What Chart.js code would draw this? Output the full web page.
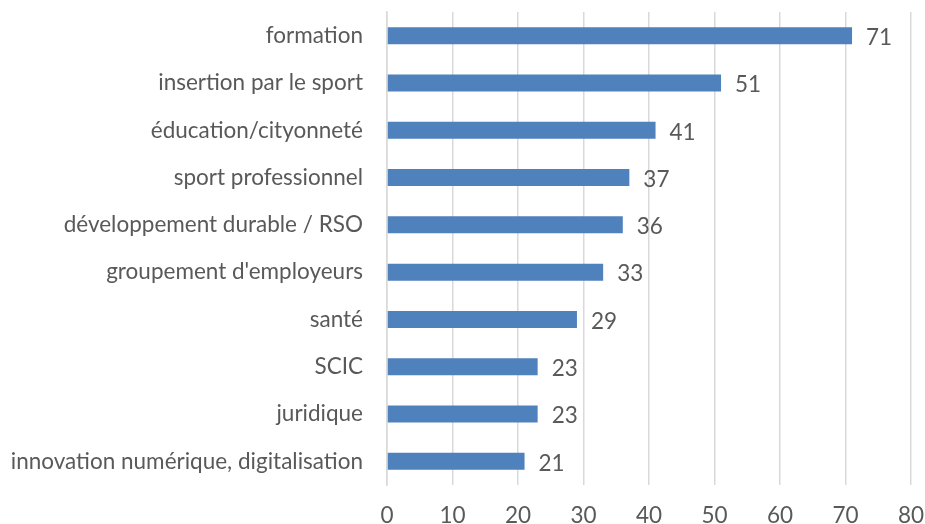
<!DOCTYPE html>
<html>
<head>
  <meta charset="utf-8">
  <title>Thèmes</title>
  <script src="https://cdn.jsdelivr.net/npm/chart.js@4.4.0/dist/chart.umd.min.js"></script>
  <style>
    html, body { margin: 0; padding: 0; background: #fff; }
    #wrap { width: 925px; height: 524px; }
  </style>
</head>
<body>
  <div id="wrap"><canvas id="bar-chart"></canvas></div>
<script>
  var categories = ["formation", "insertion par le sport", "éducation/cityonneté", "sport professionnel",
    "développement durable / RSO", "groupement d'employeurs", "santé", "SCIC", "juridique",
    "innovation numérique, digitalisation"]
  var values = [71, 51, 41, 37, 36, 33, 29, 23, 23, 21]
  var xTicks = [0, 10, 20, 30, 40, 50, 60, 70, 80]

  var font = "Lato"
  var fontSize = 22.5
  var textColor = "#595959"

  // value labels at the end of each bar
  var barLabels = {
    id: 'barLabels',
    afterDatasetsDraw: function (chart) {
      var ctx = chart.ctx
      var meta = chart.getDatasetMeta(0)
      ctx.save()
      ctx.font = fontSize + "px " + font
      ctx.fillStyle = textColor
      ctx.textAlign = "left"
      ctx.textBaseline = "middle"
      meta.data.forEach(function (bar, i) {
        ctx.fillText(values[i], bar.x + 14, bar.y + 2)
      })
      ctx.restore()
    }
  }

  new Chart(document.getElementById("bar-chart"), {
    type: 'bar',
    data: {
      labels: categories,
      datasets: [{
        data: values,
        backgroundColor: "#4f81bd",
        categoryPercentage: 1,
        barPercentage: 0.36
      }]
    },
    plugins: [barLabels],
    options: {
      indexAxis: 'y',
      responsive: true,
      maintainAspectRatio: false,
      animation: false,
      layout: { padding: { top: 12, right: 14, left: 0, bottom: 0 } },
      plugins: { legend: { display: false }, tooltip: { enabled: false } },
      scales: {
        x: {
          min: 0, max: 80,
          afterBuildTicks: function (s) { s.ticks = xTicks.map(function (v) { return { value: v } }) },
          afterFit: function (s) { s.height = 39; s.paddingLeft = 0; s.paddingRight = 0 },
          grid: { color: "#d9d9d9", lineWidth: 1.5, drawTicks: false },
          border: { display: false },
          ticks: { font: { family: font, size: fontSize }, color: textColor, padding: 17 }
        },
        y: {
          afterFit: function (s) { s.width = 387; s.paddingTop = 0; s.paddingBottom = 0 },
          grid: { display: false, drawTicks: false },
          border: { display: true, color: "#d9d9d9", width: 1.5 },
          ticks: { font: { family: font, size: fontSize }, color: textColor, padding: 24 }
        }
      }
    }
  });
</script>
</body>
</html>
